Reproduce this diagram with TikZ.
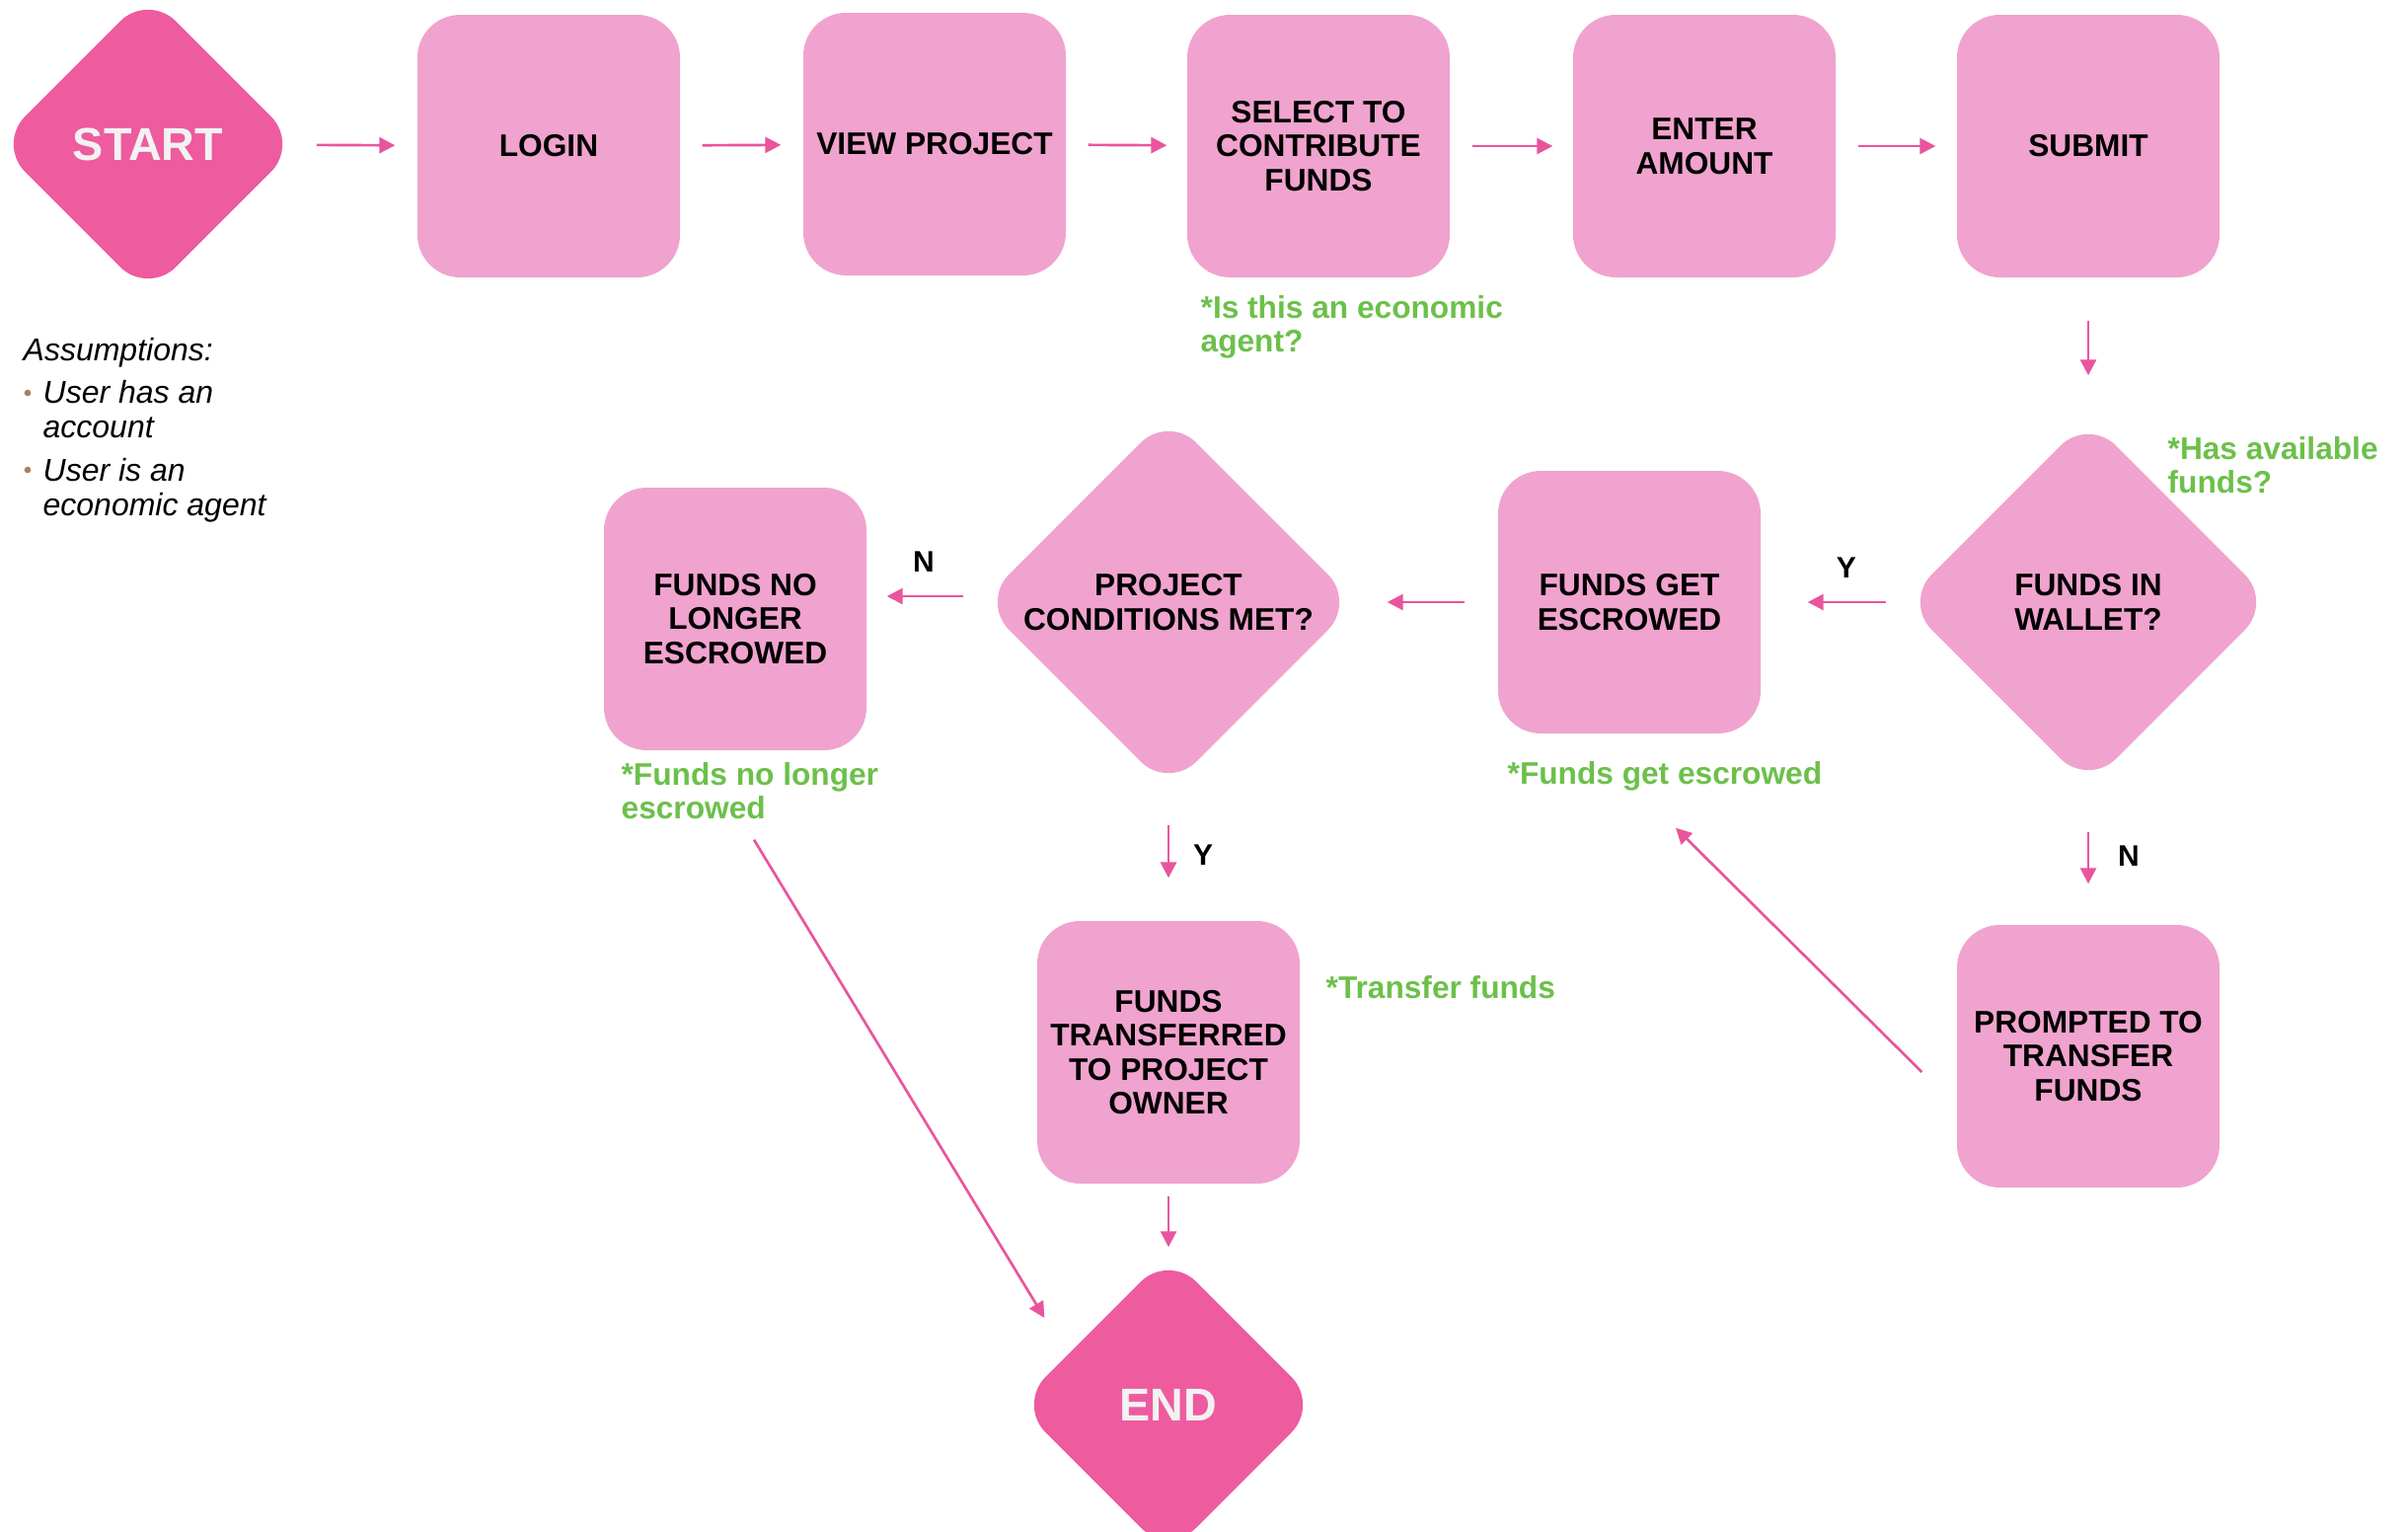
\documentclass[tikz,border=0pt]{standalone}
\usepackage{fontspec}
\setmainfont{Liberation Sans}
\usetikzlibrary{shapes.geometric,arrows.meta}
\definecolor{boxpink}{HTML}{F0A3CE}
\definecolor{darkpink}{HTML}{EE5B9F}
\definecolor{arrowpink}{HTML}{E9559D}
\definecolor{notegreen}{HTML}{6CC04A}
\definecolor{bulletbrown}{HTML}{A8805E}
\definecolor{offwhite}{HTML}{F2F2F2}
\tikzset{
  box/.style={rectangle, rounded corners=13pt, fill=boxpink, minimum width=79.8pt, minimum height=79.8pt,
    inner sep=0pt, align=center, font=\bfseries\fontsize{9.5}{10.35}\selectfont, text=black},
  decision/.style={diamond, aspect=1, rounded corners=12pt, fill=boxpink, minimum width=#1, minimum height=#1,
    inner sep=0pt, align=center, font=\bfseries\fontsize{9.5}{10.35}\selectfont, text=black},
  terminal/.style={diamond, aspect=1, rounded corners=12pt, fill=darkpink, minimum width=91.8pt, minimum height=91.8pt,
    inner sep=0pt, align=center, font=\bfseries\fontsize{14}{16}\selectfont, text=offwhite},
  arr/.style={draw=arrowpink, line width=0.8pt, -{Triangle[length=4.8pt,width=4.8pt]}},
  note/.style={text=notegreen, font=\bfseries\fontsize{9.5}{10.3}\selectfont, align=left, inner sep=0pt, anchor=north west},
  yn/.style={font=\bfseries\fontsize{9}{10}\selectfont, inner sep=0pt, text=black},
  assume/.style={font=\itshape\fontsize{9.6}{10.3}\selectfont, align=left, inner sep=0pt, text=black}
}
\begin{document}
\begin{tikzpicture}[x=0.3pt, y=-0.3pt]
\useasboundingbox (0,0) rectangle (2440,1551);
\fill[white] (0,0) rectangle (2440,1551);
\clip (0,0) rectangle (2440,1551);

% top row
\node[terminal] (start) at (150,146) {START};
\node[box] (login) at (556,148) {LOGIN};
\node[box] (view) at (947,146) {VIEW PROJECT};
\node[box] (select) at (1336,148) {SELECT TO\\CONTRIBUTE\\FUNDS};
\node[box] (enter) at (1727,148) {ENTER\\AMOUNT};
\node[box] (submit) at (2116,148) {SUBMIT};

% middle row
\node[decision=112.2pt] (wallet) at (2116,610) {FUNDS IN\\WALLET?};
\node[box] (escrow) at (1651,610) {FUNDS GET\\ESCROWED};
\node[decision=114pt] (project) at (1184,610) {PROJECT\\CONDITIONS MET?};
\node[box] (nolonger) at (745,627) {FUNDS NO\\LONGER\\ESCROWED};

% bottom
\node[box] (transferred) at (1184,1066) {FUNDS\\TRANSFERRED\\TO PROJECT\\OWNER};
\node[box] (prompted) at (2116,1070) {PROMPTED TO\\TRANSFER\\FUNDS};
\node[terminal] (end) at (1184,1423) {END};

% notes
\node[note] (n1) at (1216,299) {*Is this an economic\\agent?};
\node[note] (n2) at (2196,442) {*Has available\\funds?};
\node[note] (n3) at (1527,771) {*Funds get escrowed};
\node[note] (n4) at (629,772) {*Funds no longer\\escrowed};
\node[note] (n5) at (1343,988) {*Transfer funds};

% assumptions
\node[assume, anchor=base west] (ahead) at (23,365) {Assumptions:};
\node[assume, anchor=north west] (a1) at (43,385) {User has an\\account};
\node[assume, anchor=north west] (a2) at (43,464) {User is an\\economic agent};
\fill[bulletbrown] (28,398) circle (1pt);
\fill[bulletbrown] (28,476) circle (1pt);

% connectors
\draw[arr, shorten <=5.4pt, shorten >=6.6pt] (start) -- (login);
\draw[arr, shorten <=6.6pt, shorten >=6.6pt] (login) -- (view);
\draw[arr, shorten <=6.6pt, shorten >=6pt] (view) -- (select);
\draw[arr, shorten <=6.6pt, shorten >=6pt] (select) -- (enter);
\draw[arr, shorten <=6.6pt, shorten >=6.3pt] (enter) -- (submit);
\draw[arr, shorten <=12.9pt, shorten >=12.6pt] (submit) -- (wallet);
\draw[arr, shorten <=5.1pt, shorten >=14.1pt] (wallet) -- node[yn, pos=0.4, yshift=10.5pt] (y1) {Y} (escrow);
\draw[arr, shorten <=9.9pt, shorten >=9.3pt] (escrow) -- (project);
\coordinate (pn) at ([yshift=1.8pt]project.west);
\draw[arr, shorten <=5.1pt, shorten >=6pt] (pn) -- node[yn, midway, yshift=10.5pt] (n1lbl) {N} (pn -| nolonger.east);
\draw[arr, shorten <=10.5pt, shorten >=12.9pt] (project) -- node[yn, midway, xshift=10.5pt] (y2) {Y} (transferred);
\draw[arr, shorten <=3.6pt, shorten >=1.8pt] (transferred) -- (end);
\draw[arr, shorten <=13.5pt, shorten >=12.3pt] (wallet) -- node[yn, midway, xshift=12.3pt] (n2lbl) {N} (prompted);
\draw[arr] ([shift={(-35,16)}]prompted.west) -- ([shift={(47,95)}]escrow.south);
\draw[arr] ([shift={(19,90)}]nolonger.south) -- ([shift={(28,-88)}]end.west);
\end{tikzpicture}
\end{document}
